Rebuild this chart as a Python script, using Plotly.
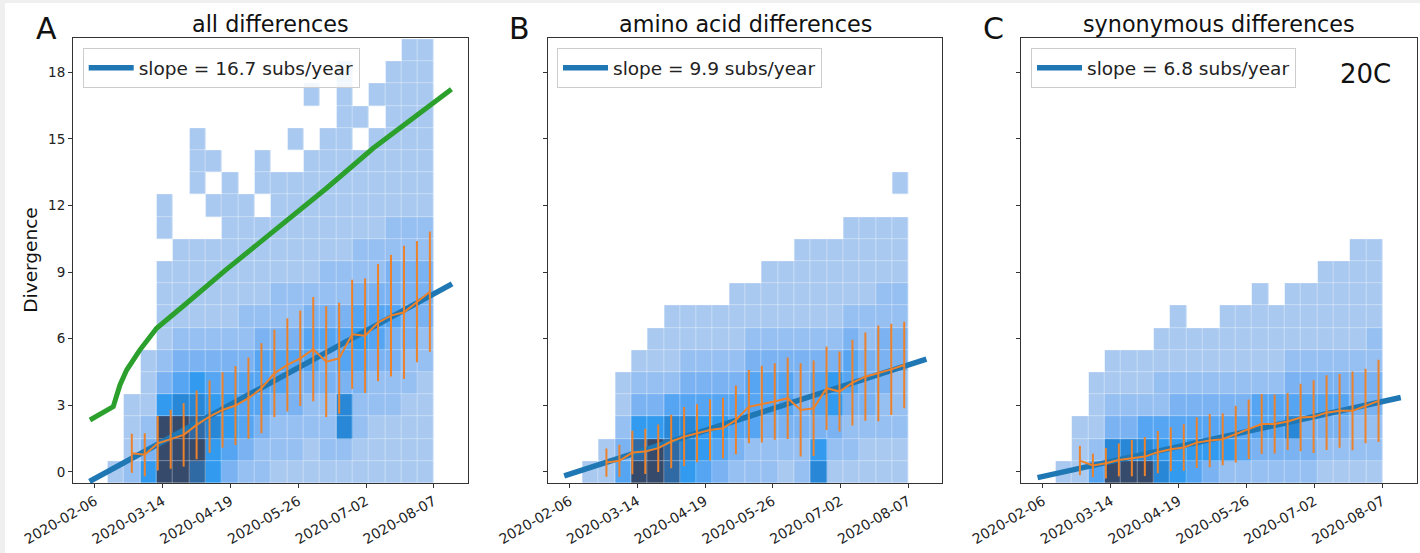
import math
from datetime import date
import plotly.graph_objects as go

# ---------------- data ----------------
TICK_YEARS = [2020.1, 2020.2, 2020.3, 2020.4, 2020.5, 2020.6]
TICK_TEXT = ["2020-02-06", "2020-03-14", "2020-04-19", "2020-05-26", "2020-07-02", "2020-08-07"]
Y_TICKS = [0, 3, 6, 9, 12, 15, 18]

TITLES = ["all differences", "amino acid differences", "synonymous differences"]
PANEL_LETTERS = ["A", "B", "C"]
CLADE_LABEL = "20C"

# weekly sampling dates of the mean +/- std (orange)
WEEK_DATES = ["2020-02-26", "2020-03-04", "2020-03-11", "2020-03-18", "2020-03-25",
              "2020-04-01", "2020-04-08", "2020-04-15", "2020-04-22", "2020-04-29",
              "2020-05-06", "2020-05-13", "2020-05-20", "2020-05-27", "2020-06-03",
              "2020-06-10", "2020-06-17", "2020-06-24", "2020-07-01", "2020-07-08",
              "2020-07-15", "2020-07-22", "2020-07-29", "2020-08-05"]

A_MEAN = [0.84, 0.77, 1.29, 1.47, 1.67, 2.12, 2.49, 2.79, 2.99, 3.32, 3.77, 4.44,
          4.82, 5.12, 5.53, 4.97, 5.12, 6.20, 6.14, 6.73, 7.04, 7.19, 7.67, 8.12]
A_STD = [0.88, 0.97, 1.23, 1.33, 1.43, 1.55, 1.63, 1.70, 1.78, 1.83, 2.03, 1.97,
         2.10, 2.15, 2.35, 2.50, 2.50, 2.46, 2.58, 2.64, 2.74, 3.00, 2.73, 2.71]
B_MEAN = [0.42, 0.50, 0.87, 0.92, 1.07, 1.37, 1.59, 1.74, 1.89, 1.97, 2.34, 2.94,
          3.05, 3.17, 3.32, 2.79, 2.87, 3.77, 3.62, 4.02, 4.29, 4.44, 4.62, 4.82]
B_STD = [0.64, 0.72, 0.98, 1.02, 1.07, 1.20, 1.33, 1.31, 1.38, 1.37, 1.55, 1.65,
         1.73, 1.72, 1.84, 2.10, 2.15, 1.88, 1.80, 1.93, 1.99, 2.16, 2.06, 1.95]
C_MEAN = [0.51, 0.29, 0.39, 0.54, 0.62, 0.69, 0.89, 1.02, 1.10, 1.32, 1.41, 1.47,
          1.70, 1.92, 2.16, 2.16, 2.27, 2.45, 2.49, 2.67, 2.75, 2.75, 2.97, 3.20]
C_STD = [0.66, 0.53, 0.69, 0.74, 0.82, 0.88, 0.95, 0.99, 1.05, 1.14, 1.20, 1.17,
         1.28, 1.34, 1.35, 1.33, 1.28, 1.52, 1.64, 1.68, 1.66, 1.77, 1.68, 1.85]

# linear fits (decimal year -> divergence)
FIT_T = [2020.092, 2020.627]
A_FIT = [-0.43, 8.47]
B_FIT = [-0.18, 5.08]
C_FIT = [-0.26, 3.35]
FIT_NAMES = ["slope = 16.7 subs/year", "slope = 9.9 subs/year", "slope = 6.8 subs/year"]

# green reference curve (panel A)
GREEN_T = [2020.0926, 2020.127, 2020.1369, 2020.1468, 2020.1664, 2020.191,
           2020.2352, 2020.2932, 2020.4417, 2020.5105, 2020.6261]
GREEN_V = [2.34, 2.94, 3.92, 4.59, 5.50, 6.47, 7.60, 9.10, 12.78, 14.58, 17.24]

# 2D histogram: density level per cell, one list per time bin, from divergence 0 upward
HIST_T0 = 2020.1187       # left edge of first time bin (decimal year)
HIST_DT = 0.02409         # time bin width (years)
A_HIST = [
    [1],
    [2, 1, 1, 1],
    [5, 3, 2, 1, 1, 1],
    [8, 8, 8, 5, 3, 2, 1, 1, 1, 1, 0, 1, 1],
    [8, 8, 8, 6, 4, 3, 2, 1, 1, 1, 1],
    [7, 8, 7, 6, 5, 3, 2, 1, 1, 1, 1, 0, 0, 1, 1, 1],
    [5, 5, 6, 5, 4, 3, 2, 1, 1, 1, 1, 0, 1, 0, 1],
    [3, 4, 5, 5, 4, 3, 2, 1, 1, 1, 1, 1, 1, 1],
    [2, 3, 4, 4, 4, 3, 2, 2, 1, 1, 1, 1, 1],
    [2, 2, 3, 4, 4, 4, 3, 2, 1, 1, 1, 1, 0, 1, 1],
    [1, 2, 2, 3, 4, 4, 3, 2, 2, 1, 1, 1, 1, 1],
    [1, 2, 2, 3, 3, 4, 3, 2, 2, 1, 1, 1, 1, 1, 0, 1],
    [1, 1, 2, 2, 3, 4, 4, 3, 2, 1, 1, 1, 1, 1, 1, 0, 0, 1],
    [1, 2, 2, 2, 3, 3, 4, 3, 2, 2, 1, 1, 1, 1, 1, 1],
    [1, 2, 6, 6, 3, 4, 4, 3, 2, 2, 1, 1, 1, 1, 1, 1, 1, 1, 1],
    [1, 1, 2, 2, 3, 4, 5, 4, 3, 2, 2, 1, 1, 1, 1, 0, 1],
    [1, 1, 1, 2, 2, 3, 4, 4, 3, 2, 2, 1, 1, 1, 1, 1, 0, 1],
    [1, 1, 1, 2, 2, 3, 3, 4, 3, 3, 2, 2, 1, 1, 1, 1, 1, 1, 1],
    [1, 1, 1, 1, 2, 2, 3, 3, 3, 3, 2, 2, 1, 1, 1, 1, 1, 1, 1, 1],
    [1, 1, 1, 1, 1, 2, 2, 3, 3, 3, 2, 2, 1, 1, 1, 1, 1, 1, 1, 1],
]
B_HIST = [
    [1],
    [1, 1],
    [4, 3, 2, 1, 1],
    [8, 7, 5, 3, 2, 1],
    [8, 8, 5, 3, 2, 1, 1],
    [7, 7, 6, 4, 2, 1, 1, 1],
    [5, 6, 6, 4, 3, 2, 1, 1],
    [4, 5, 5, 4, 3, 2, 1, 1],
    [3, 4, 5, 4, 3, 2, 1, 1],
    [2, 3, 4, 4, 3, 2, 1, 1, 1],
    [2, 2, 4, 4, 4, 3, 2, 1, 1],
    [2, 2, 3, 4, 4, 3, 2, 1, 1, 1],
    [1, 2, 3, 4, 4, 3, 2, 1, 1, 1],
    [2, 2, 3, 3, 3, 3, 2, 1, 1, 1, 1],
    [6, 5, 3, 4, 4, 3, 2, 1, 1, 1, 1],
    [1, 2, 3, 5, 5, 3, 2, 1, 1, 1, 1],
    [1, 2, 2, 3, 4, 4, 3, 2, 1, 1, 1, 1],
    [1, 1, 2, 3, 3, 3, 2, 2, 1, 1, 1, 1],
    [1, 1, 2, 2, 3, 3, 3, 2, 2, 1, 1, 1],
    [1, 1, 2, 2, 2, 3, 3, 2, 2, 1, 1, 1, 0, 1],
]
C_HIST = [
    [1],
    [1, 1, 1],
    [4, 2, 1, 1, 1],
    [8, 6, 3, 2, 1, 1],
    [8, 6, 3, 2, 1, 1],
    [8, 6, 4, 2, 1, 1],
    [6, 5, 4, 2, 2, 1, 1],
    [5, 5, 4, 3, 2, 1, 1, 1],
    [4, 5, 4, 3, 2, 1, 1],
    [3, 5, 4, 3, 2, 1, 1],
    [2, 5, 4, 3, 2, 1, 1, 1],
    [2, 4, 4, 3, 2, 1, 1, 1],
    [2, 3, 4, 4, 2, 1, 1, 1, 1],
    [2, 3, 4, 4, 2, 1, 1, 1],
    [2, 3, 6, 4, 3, 2, 1, 1, 1],
    [2, 3, 3, 4, 3, 2, 1, 1, 1],
    [1, 2, 3, 4, 3, 2, 1, 1, 1, 1],
    [1, 2, 3, 4, 3, 2, 1, 1, 1, 1],
    [1, 2, 2, 3, 3, 2, 1, 1, 1, 1, 1],
    [1, 2, 2, 3, 3, 2, 2, 1, 1, 1, 1],
]

# ---------------- styling ----------------
W, H = 1420, 553
FONT = "DejaVu Sans"
LEVEL_COLORS = ["rgb(170,201,240)", "rgb(150,191,242)", "rgb(122,178,242)",
                "rgb(86,165,243)", "rgb(50,155,240)", "rgb(40,135,215)",
                "rgb(48,106,165)", "rgb(54,74,108)"]
COLORSCALE = [[i / (len(LEVEL_COLORS) - 1), c] for i, c in enumerate(LEVEL_COLORS)]
BLUE = "#1f77b4"
ORANGE = "rgb(236,130,44)"
GREEN = "#2ca02c"


def px_x(p):
    return p / W


def px_y(p):
    return 1 - p / H


def dec_year(s):
    d = date.fromisoformat(s)
    return 2020 + ((d - date(2020, 1, 1)).days + 0.5) / 366


week_t = [dec_year(s) for s in WEEK_DATES]

X_DOMAINS = [(73, 468), (547.7, 942.3), (1021, 1416.7)]
Y_TOP, Y_BOT = 38, 483
X_RANGE = [2020.0676, 2020.6505]
Y_RANGE = [-0.5, 19.55]

fig = go.Figure()

panels = [
    (A_HIST, A_MEAN, A_STD, A_FIT),
    (B_HIST, B_MEAN, B_STD, B_FIT),
    (C_HIST, C_MEAN, C_STD, C_FIT),
]

n_rows = 20
for i, (hist, mean, std, fit) in enumerate(panels):
    xa = "x" if i == 0 else f"x{i + 1}"
    ya = "y" if i == 0 else f"y{i + 1}"
    leg = "legend" if i == 0 else f"legend{i + 1}"
    xc = [HIST_T0 + HIST_DT * (k + 0.5) for k in range(len(hist))]
    yc = list(range(n_rows))
    z = []
    for r in range(n_rows):
        row = []
        for col in hist:
            v = col[r] if r < len(col) else 0
            row.append(v if v > 0 else None)
        z.append(row)
    fig.add_trace(go.Heatmap(x=xc, y=yc, z=z, colorscale=COLORSCALE, zmin=1, zmax=8,
                             showscale=False, xgap=0.35, ygap=0.35, hoverinfo="skip",
                             xaxis=xa, yaxis=ya))
    if i == 0:
        fig.add_trace(go.Scatter(x=GREEN_T, y=GREEN_V, mode="lines",
                                 line=dict(color=GREEN, width=5), showlegend=False,
                                 xaxis=xa, yaxis=ya))
    fig.add_trace(go.Scatter(x=FIT_T, y=fit, mode="lines", name=FIT_NAMES[i],
                             line=dict(color=BLUE, width=5.5), showlegend=True,
                             legend=leg, xaxis=xa, yaxis=ya))
    fig.add_trace(go.Scatter(x=week_t, y=mean, mode="lines",
                             line=dict(color=ORANGE, width=2),
                             error_y=dict(type="data", array=std, visible=True,
                                          color=ORANGE, thickness=2, width=0),
                             showlegend=False, xaxis=xa, yaxis=ya))

axis_common = dict(showgrid=False, zeroline=False, showline=True, linecolor="#333333",
                   linewidth=1, mirror=True, ticks="outside", ticklen=4, tickwidth=1,
                   tickcolor="#333333", automargin=False)

layout = dict(width=W, height=H, margin=dict(l=0, r=0, t=0, b=0, pad=0, autoexpand=False),
              paper_bgcolor="white", plot_bgcolor="white", font=dict(family=FONT))

for i, (x0, x1) in enumerate(X_DOMAINS):
    sx = "" if i == 0 else str(i + 1)
    layout["xaxis" + sx] = dict(axis_common, domain=[px_x(x0), px_x(x1)], range=X_RANGE,
                                tickmode="array", tickvals=TICK_YEARS, ticktext=TICK_TEXT,
                                tickangle=-30, anchor="y" + sx,
                                tickfont=dict(family=FONT, size=14, color="#222222"))
    layout["yaxis" + sx] = dict(axis_common, domain=[px_y(Y_BOT), px_y(Y_TOP)], range=Y_RANGE,
                                tickmode="array", tickvals=Y_TICKS, showticklabels=(i == 0),
                                anchor="x" + sx,
                                tickfont=dict(family=FONT, size=13.5, color="#222222"))
    legend_left = [82.7, 557.0, 1031.0][i]
    layout["legend" + sx] = dict(x=px_x(legend_left), y=px_y(48.3), xanchor="left",
                                 yanchor="top", bgcolor="rgba(255,255,255,0.85)",
                                 bordercolor="#cccccc", borderwidth=1, itemwidth=45,
                                 font=dict(family=FONT, size=18.5, color="#222222"))

annotations = []
for i, (x0, x1) in enumerate(X_DOMAINS):
    annotations.append(dict(text=TITLES[i], x=px_x((x0 + x1) / 2), y=px_y(24),
                            xref="paper", yref="paper", xanchor="center", yanchor="middle",
                            showarrow=False, font=dict(family=FONT, size=22.3, color="#111111")))
    annotations.append(dict(text=PANEL_LETTERS[i], x=px_x([46.3, 519.0, 994.0][i]), y=px_y(28),
                            xref="paper", yref="paper", xanchor="center", yanchor="middle",
                            showarrow=False, font=dict(family=FONT, size=30, color="#111111")))
annotations.append(dict(text="Divergence", x=px_x(31), y=px_y(259.7), xref="paper",
                        yref="paper", xanchor="center", yanchor="middle", textangle=-90,
                        showarrow=False, font=dict(family=FONT, size=18.5, color="#111111")))
annotations.append(dict(text=CLADE_LABEL, x=px_x(1365), y=px_y(74), xref="paper",
                        yref="paper", xanchor="center", yanchor="middle",
                        showarrow=False, font=dict(family=FONT, size=26, color="#111111")))
layout["annotations"] = annotations

layout["shapes"] = [
    dict(type="rect", xref="paper", yref="paper", x0=0, x1=px_x(5), y0=0, y1=1,
         fillcolor="#efefef", line=dict(width=0), layer="below"),
    dict(type="rect", xref="paper", yref="paper", x0=0, x1=1, y0=px_y(3), y1=1,
         fillcolor="#efefef", line=dict(width=0), layer="below"),
]

fig.update_layout(**layout)
fig.write_html("out.html")
